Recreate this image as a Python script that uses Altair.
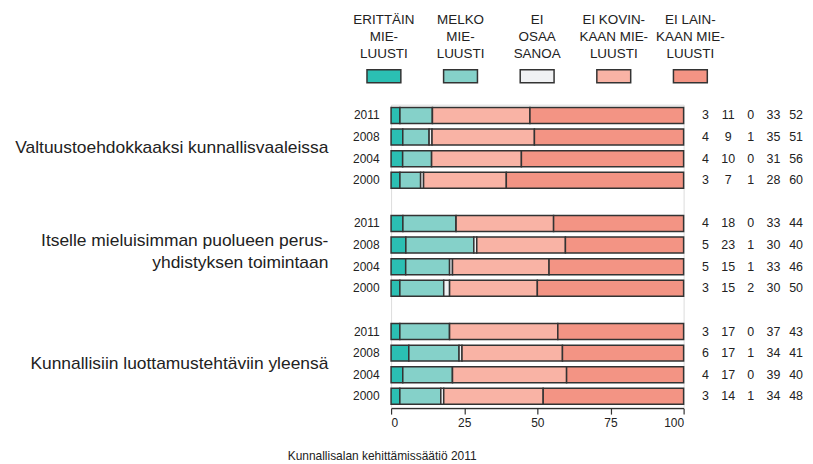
import altair as alt
import pandas as pd

# ---------------- data ----------------
groups = [
    "Valtuustoehdokkaaksi kunnallisvaaleissa",
    "Itselle mieluisimman puolueen perus-\nyhdistyksen toimintaan",
    "Kunnallisiin luottamustehtäviin yleensä",
]
years = ["2011", "2008", "2004", "2000"]
categories = [
    "ERITTÄIN\nMIE-\nLUUSTI",
    "MELKO\nMIE-\nLUUSTI",
    "EI\nOSAA\nSANOA",
    "EI KOVIN-\nKAAN MIE-\nLUUSTI",
    "EI LAIN-\nKAAN MIE-\nLUUSTI",
]
colors = ["#2bbfb3", "#85d1c9", "#f0f1f3", "#f9b3a5", "#f39484"]

valtuusto = [[3, 11, 0, 33, 52], [4, 9, 1, 35, 51], [4, 10, 0, 31, 56], [3, 7, 1, 28, 60]]
puolue = [[4, 18, 0, 33, 44], [5, 23, 1, 30, 40], [5, 15, 1, 33, 46], [3, 15, 2, 30, 50]]
yleensa = [[3, 17, 0, 37, 43], [6, 17, 1, 34, 41], [4, 17, 0, 39, 40], [3, 14, 1, 34, 48]]
group_values = [valtuusto, puolue, yleensa]

x_ticks = [0, 25, 50, 75, 100]
source_text = "Kunnallisalan kehittämissäätiö 2011"

# ---------------- tables ----------------
rows = []
row_order = []
for gi, vals in enumerate(group_values):
    if gi > 0:
        row_order.append(f"gap{gi}")
    for yi, yr in enumerate(years):
        key = f"{gi}|{yr}"
        row_order.append(key)
        for ci, cat in enumerate(categories):
            rows.append({"key": key, "cat": cat, "ci": ci, "value": vals[yi][ci]})
df = pd.DataFrame(rows)
df_groups = pd.DataFrame({"key": [f"{gi}|2008" for gi in range(len(groups))], "label": groups})
df_legend = pd.DataFrame({"cat": categories})
df_source = pd.DataFrame({"t": [source_text]})

TXT = "#222222"
STROKE = "#333333"
FONT = "Liberation Sans, Arial, Helvetica, sans-serif"

yscale = alt.Scale(domain=row_order, paddingInner=0.26, paddingOuter=0.13)
yaxis = alt.Axis(
    labelExpr="indexof(datum.value, '|') >= 0 ? split(datum.value, '|')[1] : ''",
    domain=False, ticks=False, grid=False, labelFontSize=12, labelPadding=12,
    labelColor=TXT, title=None,
)
color = alt.Color("cat:N", scale=alt.Scale(domain=categories, range=colors), legend=None)

bars = (
    alt.Chart(df)
    .transform_joinaggregate(total="sum(value)", groupby=["key"])
    .transform_calculate(pct="datum.value / datum.total * 100")
    .mark_bar(stroke=STROKE, strokeWidth=1.5)
    .encode(
        x=alt.X("pct:Q", stack="zero", scale=alt.Scale(domain=[0, 100], nice=False),
                axis=alt.Axis(values=x_ticks, grid=False, domainColor=STROKE, domainWidth=1.2,
                              tickColor=STROKE, tickWidth=1.2, tickSize=6, labelFontSize=12,
                              labelPadding=3, labelColor=TXT, title=None, offset=1)),
        y=alt.Y("key:N", scale=yscale, axis=yaxis, title=None),
        color=color,
        order=alt.Order("ci:Q"),
    )
)

numbers = (
    alt.Chart(df)
    .mark_text(fontSize=12.5, color=TXT, align="center", baseline="middle")
    .encode(
        x=alt.X("cat:N", scale=alt.Scale(type="point", domain=categories, range=[316, 407], padding=0),
                axis=None),
        y=alt.Y("key:N", scale=yscale, axis=yaxis, title=None),
        text="value:Q",
    )
)

legend_x = alt.X("cat:N", scale=alt.Scale(type="band", domain=categories, range=[-45.7, 339.3],
                                          paddingInner=0.558, paddingOuter=0.279), axis=None)
legend_rects = (
    alt.Chart(df_legend)
    .mark_rect(stroke=STROKE, strokeWidth=1.5)
    .encode(x=legend_x, y=alt.value(-35), y2=alt.value(-22), color=color)
)
legend_text = (
    alt.Chart(df_legend)
    .mark_text(fontSize=13.5, lineBreak="\n", lineHeight=17,
               align="center", baseline="alphabetic", color=TXT)
    .encode(x=legend_x, y=alt.value(-81), text="cat:N")
)

def group_layer(multiline, dy):
    cond = "indexof(datum.label, '\\n') >= 0"
    return (
        alt.Chart(df_groups)
        .transform_filter(cond if multiline else f"!({cond})")
        .mark_text(fontSize=17.5, lineBreak="\n", lineHeight=22, align="right",
                   baseline="middle", color=TXT, dy=dy)
        .encode(
            x=alt.value(-63),
            y=alt.Y("key:N", scale=yscale, axis=yaxis, title=None, bandPosition=1),
            text="label:N",
        )
    )

group_single = group_layer(False, 2.8)
group_multi = group_layer(True, -12)

source = (
    alt.Chart(df_source)
    .mark_text(fontSize=12, align="center", baseline="alphabetic", color=TXT)
    .encode(x=alt.value(-9), y=alt.value(357), text="t:N")
)

chart = (
    alt.layer(bars, numbers, legend_rects, legend_text, group_single, group_multi, source)
    .resolve_scale(x="independent")
    .properties(
        width=294, height=304,
        autosize=alt.AutoSizeParams(type="none"),
        padding={"left": 385, "top": 96, "right": 122, "bottom": 56},
    )
    .configure_view(stroke=None)
    .configure(font=FONT)
)

chart.save("out.html", embed_options={"renderer": "svg", "actions": False})
